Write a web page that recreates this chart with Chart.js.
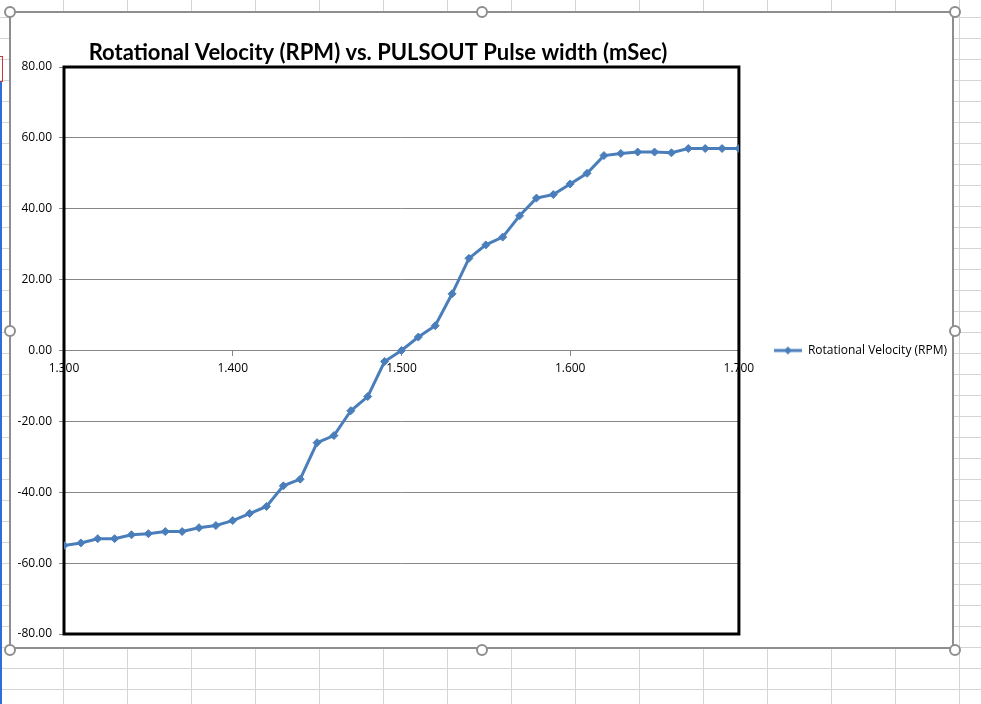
<!DOCTYPE html>
<html>
<head>
<meta charset="utf-8">
<script src="https://cdn.jsdelivr.net/npm/chart.js@4"></script>
<style>
    html, body {
        margin: 0;
        padding: 0;
    }

    body {
        width: 981px;
        height: 704px;
        overflow: hidden;
        position: relative;
        background-color: #fff;
        background-image:
            linear-gradient(to right, #d4d4d4 1px, transparent 1px),
            linear-gradient(to bottom, #d4d4d4 1px, transparent 1px);
        background-size: 64px 21px;
        background-position: 63px 17px;
    }

    .sheet-edge {
        position: absolute;
        left: 0;
        top: 82px;
        width: 2px;
        height: 622px;
        background: #2b70d8;
    }

    .sheet-mark {
        position: absolute;
        left: 0;
        top: 56px;
        width: 2px;
        height: 24px;
        border: 1px solid #c43a3a;
        border-left: none;
    }

    .chart-box {
        position: absolute;
        left: 9px;
        top: 11px;
        width: 945px;
        height: 638px;
        box-sizing: border-box;
        border: 2px solid #8e8e8e;
        background: #fff;
    }

    .handle {
        position: absolute;
        width: 8px;
        height: 8px;
        margin: -6px 0 0 -6px;
        border: 2px solid #8e8e8e;
        border-radius: 50%;
        background: #fff;
        z-index: 2;
    }

    #rpmChart {
        position: absolute;
        left: 0;
        top: 0;
        z-index: 1;
    }
</style>
</head>
<body>
<div class="sheet-mark"></div>
<div class="sheet-edge"></div>
<div class="chart-box"></div>
<div class="handle" style="left: 10px; top: 12px;"></div>
<div class="handle" style="left: 482px; top: 12px;"></div>
<div class="handle" style="left: 955px; top: 12px;"></div>
<div class="handle" style="left: 10px; top: 331px;"></div>
<div class="handle" style="left: 955px; top: 331px;"></div>
<div class="handle" style="left: 10px; top: 650px;"></div>
<div class="handle" style="left: 482px; top: 650px;"></div>
<div class="handle" style="left: 955px; top: 650px;"></div>
<canvas id="rpmChart" width="981" height="704"></canvas>

<script>
const chartTitle = 'Rotational Velocity (RPM) vs. PULSOUT Pulse width (mSec)';
const seriesName = 'Rotational Velocity (RPM)';

// pulse width in mSec
const pulseWidths = [
    1.30, 1.31, 1.32, 1.33, 1.34, 1.35, 1.36, 1.37, 1.38, 1.39,
    1.40, 1.41, 1.42, 1.43, 1.44, 1.45, 1.46, 1.47, 1.48, 1.49,
    1.50, 1.51, 1.52, 1.53, 1.54, 1.55, 1.56, 1.57, 1.58, 1.59,
    1.60, 1.61, 1.62, 1.63, 1.64, 1.65, 1.66, 1.67, 1.68, 1.69,
    1.70];

// measured RPM
const rpmValues = [
    -55, -54.3, -53.1, -53.1, -52, -51.7, -51.1, -51.1, -50, -49.4,
    -48, -46, -44, -38.2, -36.3, -26, -24, -17, -13, -3.1,
    0, 3.8, 7, 16, 26, 29.8, 32, 38, 43, 44,
    47, 50, 55, 55.6, 56, 56, 55.8, 57, 57, 57,
    57];

const xTicks = [1.3, 1.4, 1.5, 1.6, 1.7];
const yTicks = [-80, -60, -40, -20, 0, 20, 40, 60, 80];

const LINE_COLOR = '#4a7ebb';
const GRID_COLOR = '#878787';
const TEXT_COLOR = '#000';

function makeLegendMarker() {
    const marker = document.createElement('canvas');
    marker.width = 28;
    marker.height = 10;
    const ctx = marker.getContext('2d');
    ctx.strokeStyle = LINE_COLOR;
    ctx.lineWidth = 3;
    ctx.beginPath();
    ctx.moveTo(0, 5);
    ctx.lineTo(28, 5);
    ctx.stroke();
    ctx.fillStyle = LINE_COLOR;
    ctx.beginPath();
    ctx.moveTo(14, 1);
    ctx.lineTo(18, 5);
    ctx.lineTo(14, 9);
    ctx.lineTo(10, 5);
    ctx.closePath();
    ctx.fill();
    return marker;
}

// thick black frame round the plot area, drawn under the line
const plotFrame = {
    id: 'plotFrame',
    beforeDatasetsDraw(chart) {
        const {ctx, chartArea} = chart;
        ctx.save();
        ctx.strokeStyle = '#000';
        ctx.lineWidth = 3;
        ctx.strokeRect(chartArea.left, chartArea.top,
            chartArea.right - chartArea.left, chartArea.bottom - chartArea.top);
        ctx.restore();
    }
};

// Excel-style title, sitting a bit left of the centre
const offsetTitle = {
    id: 'offsetTitle',
    afterDraw(chart) {
        const {ctx, chartArea} = chart;
        ctx.save();
        ctx.font = 'bold 22px Lato';
        ctx.fillStyle = '#000';
        ctx.textAlign = 'center';
        ctx.textBaseline = 'alphabetic';
        ctx.fillText(chartTitle, chartArea.left + 314, chartArea.top - 7);
        ctx.restore();
    }
};

new Chart(document.getElementById('rpmChart').getContext('2d'), {
    type: 'line',
    data: {
        datasets: [{
            label: seriesName,
            data: pulseWidths.map((x, i) => ({x: x, y: rpmValues[i]})),
            borderColor: LINE_COLOR,
            backgroundColor: LINE_COLOR,
            borderWidth: 3,
            pointStyle: 'rectRot',
            pointRadius: 4,
            pointBorderWidth: 1,
            tension: 0
        }]
    },
    options: {
        responsive: false,
        animation: false,
        layout: {
            padding: {left: 14, top: 67, bottom: 70, right: 24}
        },
        plugins: {
            title: {display: false},
            tooltip: {enabled: false},
            legend: {
                display: true,
                position: 'right',
                align: 'center',
                labels: {
                    usePointStyle: true,
                    pointStyle: makeLegendMarker(),
                    pointStyleWidth: 28,
                    padding: 35,
                    color: TEXT_COLOR,
                    font: {family: 'Open Sans', size: 12}
                }
            }
        },
        scales: {
            x: {
                type: 'linear',
                position: {y: 0},
                min: 1.3,
                max: 1.7,
                afterBuildTicks(scale) {
                    scale.ticks = xTicks.map(v => ({value: v}));
                },
                ticks: {
                    color: TEXT_COLOR,
                    padding: 6,
                    maxRotation: 0,
                    font: {family: 'Open Sans', size: 12},
                    callback: v => Number(v).toFixed(3)
                },
                grid: {
                    drawOnChartArea: false,
                    color: GRID_COLOR,
                    tickLength: 5
                },
                border: {display: true, color: GRID_COLOR, width: 1}
            },
            y: {
                min: -80,
                max: 80,
                afterBuildTicks(scale) {
                    scale.ticks = yTicks.map(v => ({value: v}));
                },
                afterFit(scale) {
                    scale.width = 50;
                },
                ticks: {
                    color: TEXT_COLOR,
                    padding: 7,
                    font: {family: 'Open Sans', size: 12},
                    callback: v => Number(v).toFixed(2)
                },
                grid: {
                    color: GRID_COLOR,
                    lineWidth: 1,
                    tickLength: 5
                },
                border: {display: false}
            }
        }
    },
    plugins: [plotFrame, offsetTitle]
});
</script>
</body>
</html>
